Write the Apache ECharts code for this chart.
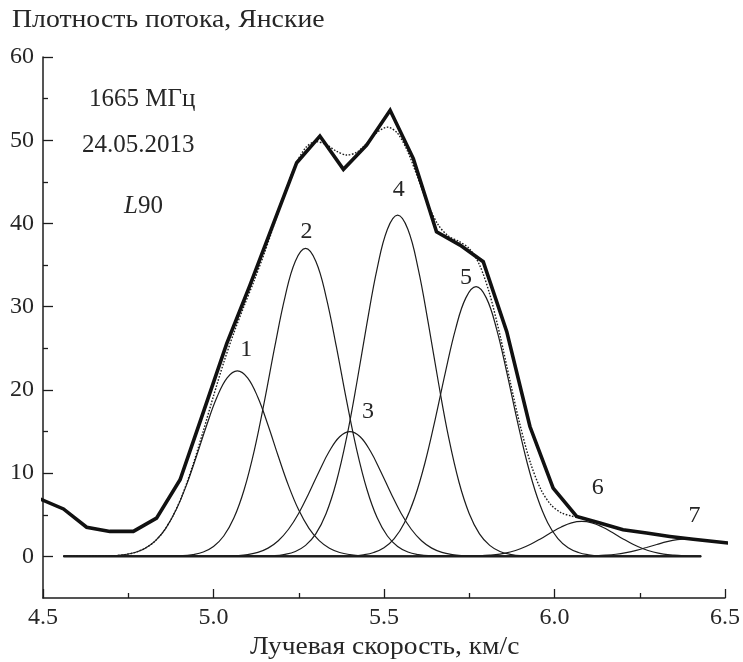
<!DOCTYPE html>
<html>
<head>
<meta charset="utf-8">
<script src="https://cdn.jsdelivr.net/npm/echarts@6/dist/echarts.min.js"></script>
<style>
  html, body { margin: 0; padding: 0; background: #fff; }
  #chart { width: 743px; height: 662px; }
</style>
</head>
<body>
<div id="chart"></div>
<script>
// Observed OH 1665 MHz spectrum: channel velocities (km/s) and flux density (Jy)
const obsVelocity = [4.491, 4.560, 4.628, 4.696, 4.765, 4.833, 4.902, 4.970, 5.039, 5.107,
  5.176, 5.244, 5.312, 5.381, 5.449, 5.518, 5.586, 5.654, 5.723, 5.791,
  5.860, 5.928, 5.996, 6.065, 6.133, 6.201, 6.270, 6.338, 6.407, 6.475, 6.543];
const obsFlux = [6.9, 5.7, 3.5, 3.0, 3.0, 4.6, 9.2, 17.3, 25.6, 32.6,
  40.0, 47.3, 50.5, 46.5, 49.4, 53.6, 47.8, 39.0, 37.4, 35.4,
  27.0, 15.6, 8.2, 4.8, 4.0, 3.2, 2.8, 2.4, 2.05, 1.75, 1.45];

// Sum of the Gaussian components (dotted profile)
const fitVelocity = [4.56, 4.64, 4.70, 4.74, 4.78, 4.82, 4.85, 4.88, 4.91, 4.94,
  4.97, 5.00, 5.03, 5.06, 5.09, 5.12, 5.15, 5.18, 5.21, 5.24,
  5.27, 5.30, 5.33, 5.36, 5.39, 5.42, 5.45, 5.48, 5.51, 5.54,
  5.57, 5.60, 5.63, 5.66, 5.69, 5.72, 5.75, 5.78, 5.81, 5.84,
  5.87, 5.90, 5.93, 5.96, 5.99, 6.02, 6.05, 6.08];
const fitFlux = [0.00, 0.01, 0.06, 0.21, 0.61, 1.53, 2.81, 4.78, 7.52, 11.03,
  15.06, 19.27, 23.29, 26.89, 30.12, 33.22, 36.54, 40.16, 43.82, 46.99,
  49.09, 49.84, 49.49, 48.70, 48.22, 48.55, 49.67, 50.96, 51.57, 50.83,
  48.59, 45.40, 42.17, 39.77, 38.45, 37.84, 36.99, 35.04, 31.51, 26.59,
  20.99, 15.61, 11.17, 8.05, 6.18, 5.24, 4.85, 4.57];

// Individual Gaussian components, [velocity, flux] pairs
const comp1 = [[4.56, 0], [4.68, 0.03], [4.71, 0.09], [4.74, 0.21], [4.77, 0.47], [4.80, 0.98],
  [4.83, 1.89], [4.86, 3.37], [4.89, 5.56], [4.92, 8.50], [4.95, 12.03], [4.98, 15.76],
  [5.01, 19.11], [5.04, 21.46], [5.07, 22.30], [5.10, 21.46], [5.13, 19.11], [5.16, 15.76],
  [5.19, 12.03], [5.22, 8.50], [5.25, 5.56], [5.28, 3.37], [5.31, 1.89], [5.34, 0.98],
  [5.37, 0.47], [5.40, 0.21], [5.43, 0.09], [5.46, 0.03], [6.43, 0]];
const comp2 = [[4.56, 0], [4.91, 0.08], [4.94, 0.22], [4.97, 0.53], [5.00, 1.19], [5.03, 2.45],
  [5.06, 4.63], [5.09, 8.04], [5.12, 12.81], [5.15, 18.77], [5.18, 25.26], [5.21, 31.22],
  [5.24, 35.46], [5.27, 37.00], [5.30, 35.46], [5.33, 31.22], [5.36, 25.26], [5.39, 18.77],
  [5.42, 12.81], [5.45, 8.04], [5.48, 4.63], [5.51, 2.45], [5.54, 1.19], [5.57, 0.53],
  [5.60, 0.22], [5.63, 0.08], [6.43, 0]];
const comp3 = [[4.56, 0], [5.04, 0.03], [5.07, 0.09], [5.10, 0.22], [5.13, 0.48], [5.16, 0.99],
  [5.19, 1.88], [5.22, 3.26], [5.25, 5.19], [5.28, 7.61], [5.31, 10.24], [5.34, 12.66],
  [5.37, 14.38], [5.40, 15.00], [5.43, 14.38], [5.46, 12.66], [5.49, 10.24], [5.52, 7.61],
  [5.55, 5.19], [5.58, 3.26], [5.61, 1.88], [5.64, 0.99], [5.67, 0.48], [5.70, 0.22],
  [5.73, 0.09], [5.76, 0.03], [6.43, 0]];
const comp4 = [[4.56, 0], [5.18, 0.09], [5.21, 0.24], [5.24, 0.59], [5.27, 1.32], [5.30, 2.71],
  [5.33, 5.13], [5.36, 8.91], [5.39, 14.20], [5.42, 20.80], [5.45, 27.99], [5.48, 34.60],
  [5.51, 39.30], [5.54, 41.00], [5.57, 39.30], [5.60, 34.60], [5.63, 27.99], [5.66, 20.80],
  [5.69, 14.20], [5.72, 8.91], [5.75, 5.13], [5.78, 2.71], [5.81, 1.32], [5.84, 0.59],
  [5.87, 0.24], [5.90, 0.09], [6.43, 0]];
const comp5 = [[4.56, 0], [5.41, 0.07], [5.44, 0.19], [5.47, 0.47], [5.50, 1.04], [5.53, 2.14],
  [5.56, 4.05], [5.59, 7.04], [5.62, 11.22], [5.65, 16.44], [5.68, 22.12], [5.71, 27.34],
  [5.74, 31.06], [5.77, 32.40], [5.80, 31.06], [5.83, 27.34], [5.86, 22.12], [5.89, 16.44],
  [5.92, 11.22], [5.95, 7.04], [5.98, 4.05], [6.01, 2.14], [6.04, 1.04], [6.07, 0.47],
  [6.10, 0.19], [6.13, 0.07], [6.43, 0]];
const comp6 = [[4.56, 0], [5.72, 0.01], [5.75, 0.02], [5.78, 0.06], [5.81, 0.14], [5.84, 0.28],
  [5.87, 0.53], [5.90, 0.91], [5.93, 1.45], [5.96, 2.13], [5.99, 2.87], [6.02, 3.54],
  [6.05, 4.03], [6.08, 4.20], [6.11, 4.03], [6.14, 3.54], [6.17, 2.87], [6.20, 2.13],
  [6.23, 1.45], [6.26, 0.91], [6.29, 0.53], [6.32, 0.28], [6.35, 0.14], [6.38, 0.06],
  [6.41, 0.02], [6.43, 0.01]];
const comp7 = [[4.56, 0], [6.03, 0.00], [6.06, 0.01], [6.09, 0.03], [6.12, 0.07], [6.15, 0.14],
  [6.18, 0.26], [6.21, 0.46], [6.24, 0.73], [6.27, 1.07], [6.30, 1.43], [6.33, 1.77],
  [6.36, 2.01], [6.39, 2.10], [6.42, 2.01]];

// Zero level of the decomposition
const baseline = [[4.56, 0], [6.43, 0]];

// Component numbering, attached to each component's peak
const componentNames = ['1', '2', '3', '4', '5', '6', '7'];
const componentCenters = [5.07, 5.27, 5.40, 5.54, 5.77, 6.08, 6.39];
const componentPeaks = [22.3, 37.0, 15.0, 41.0, 32.4, 4.2, 2.1];

// Axis ticks
const yMajorTicks = [0, 10, 20, 30, 40, 50, 60];
const yMinorTicks = [5, 15, 25, 35, 45, 55];

const FONT = "'Liberation Serif', 'Times New Roman', serif";
const INK = '#1c1c1c';
const TEXT = '#262626';

// pixel nudges for the component numbers relative to their peaks
const nameOffsets = [[9, -21], [1, -17], [18, -20], [1, -25], [-10, -9], [16, -34], [7, -23]];

const components = [comp1, comp2, comp3, comp4, comp5, comp6, comp7];

const chart = echarts.init(document.getElementById('chart'), null, { renderer: 'canvas' });

const componentSeries = components.map((c, i) => ({
  type: 'line',
  name: 'c' + (i + 1),
  data: c,
  smooth: 0.4,
  symbol: 'none',
  silent: true,
  lineStyle: { color: INK, width: 1.2 },
  z: 3
}));

const option = {
  animation: false,
  backgroundColor: '#ffffff',
  grid: { left: 43, right: 18, top: 57, bottom: 64, containLabel: false, outerBoundsMode: 'none' },
  xAxis: {
    type: 'value',
    min: 4.5, max: 6.5, interval: 0.5,
    axisLine: { onZero: false, lineStyle: { color: INK, width: 1.5 } },
    axisTick: { inside: true, length: 9, lineStyle: { color: INK, width: 1.3 } },
    minorTick: { show: true, splitNumber: 2, length: 5, lineStyle: { color: INK, width: 1.3 } },
    splitLine: { show: false },
    axisLabel: {
      margin: 8, color: TEXT, fontFamily: FONT, fontSize: 24,
      formatter: v => v.toFixed(1)
    }
  },
  yAxis: [{
    type: 'value',
    min: -5, max: 60,
    axisLine: { show: true, lineStyle: { color: INK, width: 1.5 } },
    axisTick: { show: true, inside: true, length: 10, customValues: yMajorTicks, lineStyle: { color: INK, width: 1.3 } },
    axisLabel: { customValues: yMajorTicks, margin: 9, color: TEXT, fontFamily: FONT, fontSize: 24 },
    splitLine: { show: false }
  }, {
    type: 'value',
    min: -5, max: 60,
    position: 'left', offset: 0,
    axisLine: { show: false },
    axisTick: { show: true, inside: true, length: 5, customValues: yMinorTicks, lineStyle: { color: INK, width: 1.3 } },
    axisLabel: { show: false },
    splitLine: { show: false }
  }],
  series: [
    ...componentSeries,
    {
      type: 'line',
      name: 'zero',
      data: baseline,
      symbol: 'none',
      silent: true,
      lineStyle: { color: INK, width: 2.2 },
      z: 3
    },
    {
      type: 'line',
      name: 'fit',
      data: fitVelocity.map((v, i) => [v, fitFlux[i]]),
      smooth: 0.3,
      symbol: 'none',
      silent: true,
      lineStyle: { color: INK, width: 1.4, type: [1.6, 1.6] },
      z: 4
    },
    {
      type: 'line',
      name: 'observed',
      data: obsVelocity.map((v, i) => [v, obsFlux[i]]),
      symbol: 'none',
      silent: true,
      clip: true,
      lineStyle: { color: '#111', width: 3.6, join: 'miter', cap: 'butt' },
      z: 5
    },
    {
      type: 'scatter',
      name: 'numbers',
      data: componentCenters.map((v, i) => ({
        value: [v, componentPeaks[i]],
        label: { formatter: componentNames[i], offset: nameOffsets[i] }
      })),
      symbolSize: 0,
      itemStyle: { color: INK, opacity: 1 },
      silent: true,
      label: {
        show: true, position: [0, 0], align: 'center', verticalAlign: 'middle',
        color: TEXT, opacity: 1, fontFamily: FONT, fontSize: 24, textBorderWidth: 0
      },
      z: 6
    }
  ],
  graphic: [
    {
      type: 'text', left: 12, top: 8, scaleX: 1.11,
      style: { text: 'Плотность потока, Янские', font: '25px ' + FONT, fill: TEXT }
    },
    {
      type: 'text', left: 89, top: 87,
      style: { text: '1665 МГц', font: '25px ' + FONT, fill: TEXT }
    },
    {
      type: 'text', left: 82, top: 133,
      style: { text: '24.05.2013', font: '25px ' + FONT, fill: TEXT }
    },
    {
      type: 'text', left: 124, top: 194,
      style: {
        text: '{i|L}90', font: '25px ' + FONT, fill: TEXT,
        rich: { i: { fontStyle: 'italic', fontFamily: FONT, fontSize: 25, fill: TEXT } }
      }
    },
    {
      type: 'text', left: 250, top: 635, scaleX: 1.1,
      style: { text: 'Лучевая скорость, км/с', font: '25px ' + FONT, fill: TEXT }
    }
  ]
};

chart.setOption(option);
</script>
</body>
</html>
